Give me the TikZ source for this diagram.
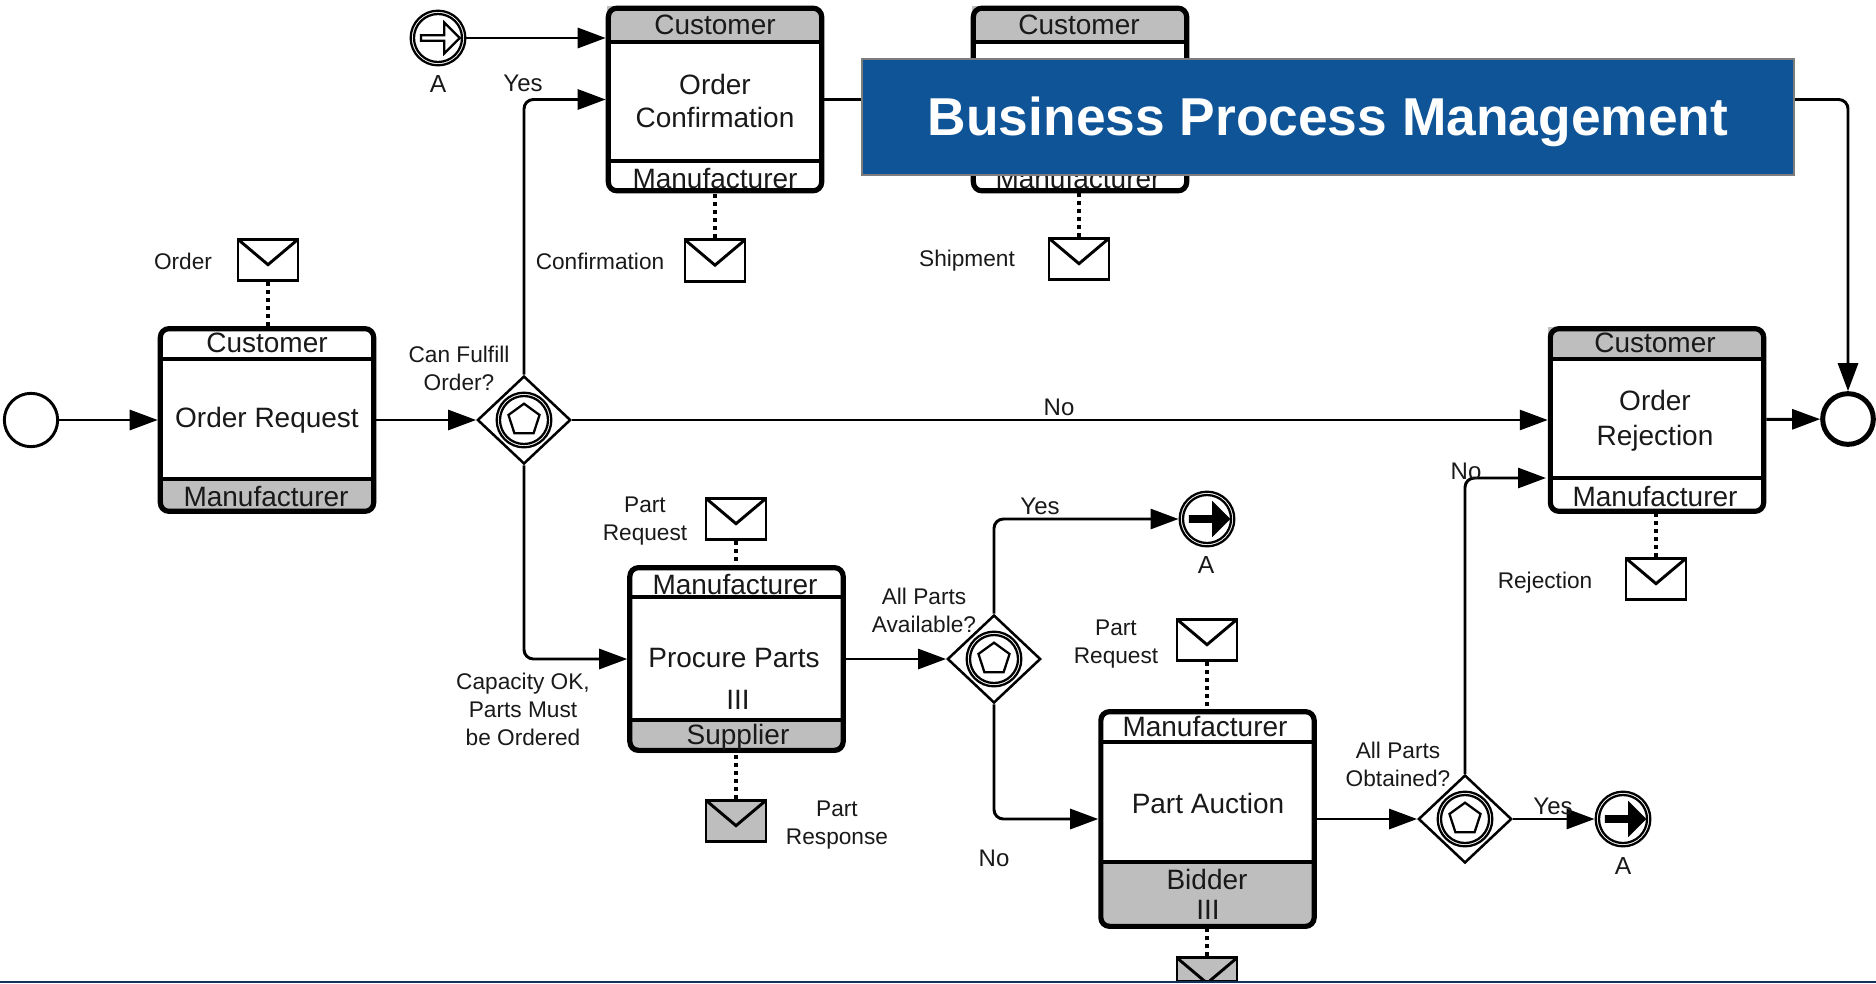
\documentclass[tikz,border=0pt]{standalone}
\usepackage{fontspec}
\setmainfont{Liberation Sans}
\usetikzlibrary{arrows.meta,shapes.geometric,shapes.arrows}

\definecolor{bandgrey}{RGB}{190,190,190}
\definecolor{bannerblue}{RGB}{14,84,151}
\definecolor{bannerline}{RGB}{125,125,125}
\definecolor{inkgrey}{RGB}{25,25,25}
\definecolor{edgenavy}{RGB}{20,50,90}

\tikzset{
  every picture/.style={line width=0.75pt},
  taskbox/.style={draw=black,line width=3.9pt,rounded corners=6.5pt,minimum width=160pt,minimum height=137pt,inner sep=0pt},
  tasktall/.style={taskbox,minimum height=161pt},
  divider/.style={line width=3.4pt},
  band/.style={fill=bandgrey},
  tasktext/.style={text=inkgrey,font=\fontsize{21}{24.5}\selectfont,inner sep=0pt,align=center},
  lab/.style={text=inkgrey,font=\fontsize{17}{21}\selectfont,inner sep=0pt,align=center},
  flow/.style={line width=2.2pt,rounded corners=7pt,-{Triangle[length=21pt,width=15pt]}},
  assoc/.style={line width=3.4pt,dash pattern=on 3.2pt off 2.8pt},
  envelope/.style={draw=black,line width=2.2pt,minimum width=45pt,minimum height=31pt,inner sep=0pt,
    path picture={\draw[line width=2.2pt] (path picture bounding box.north west) -- ([yshift=-19pt]path picture bounding box.north) -- (path picture bounding box.north east);}},
  gate/.style={diamond,draw=black,line width=1.9pt,minimum width=70pt,minimum height=66pt,inner sep=0pt},
  ringouter/.style={circle,draw=black,line width=1.7pt,minimum size=41pt,inner sep=0pt},
  ringinner/.style={circle,draw=black,line width=1.7pt,minimum size=36pt,inner sep=0pt},
  penta/.style={regular polygon,regular polygon sides=5,draw=black,line width=1.7pt,minimum size=24.5pt,inner sep=0pt},
  linkarrow/.style={single arrow,draw=black,line width=1.7pt,minimum height=29pt,minimum width=23pt,single arrow head extend=4pt,inner sep=0pt},
  banner/.style={fill=bannerblue,draw=bannerline,line width=1.5pt,text=white,font=\fontsize{40}{46}\selectfont\bfseries,text height=27.8pt,text depth=0pt,minimum width=699pt,minimum height=87pt,inner sep=0pt}
}

\begin{document}
\begin{tikzpicture}[x=0.75pt,y=0.75pt,yscale=-1,xscale=1]
\useasboundingbox (0,0) rectangle (1876,983);

% Bands
\fill[band] (158,479) -- (376,479) [rounded corners=7pt] -- (376,513) -- (158,513) [sharp corners] -- cycle ;
\fill[band] (607,42) -- (607,6) [rounded corners=7pt] -- (823,6) -- (823,42) [sharp corners] -- cycle ;
\fill[band] (972,42) -- (972,6) [rounded corners=7pt] -- (1188,6) -- (1188,42) [sharp corners] -- cycle ;
\fill[band] (1548,359) -- (1548,327) [rounded corners=7pt] -- (1766,327) -- (1766,359) [sharp corners] -- cycle ;
\fill[band] (628,720) -- (845,720) [rounded corners=7pt] -- (845,753) -- (628,753) [sharp corners] -- cycle ;
\fill[band] (1099,862) -- (1316,862) [rounded corners=7pt] -- (1316,926) -- (1099,926) [sharp corners] -- cycle ;

% Tasks
\node[taskbox] (request) at (267,420) {};
\node[taskbox] (confirm) at (715,99.5) {};
\node[taskbox] (shipment) at (1080,99.5) {};
\node[taskbox] (rejection) at (1657,420) {};
\node[taskbox] (procure) at (736.5,659) {};
\node[tasktall] (auction) at (1207.5,819) {};

% Dividers
\draw[divider] (158,359) -- (376,359) (158,479) -- (376,479) ;
\draw[divider] (607,42) -- (823,42) (607,161) -- (823,161) ;
\draw[divider] (972,42) -- (1188,42) (972,161) -- (1188,161) ;
\draw[divider] (1548,359) -- (1766,359) (1548,478) -- (1766,478) ;
\draw[divider] (628,597) -- (845,597) (628,720) -- (845,720) ;
\draw[divider] (1099,742) -- (1316,742) (1099,862) -- (1316,862) ;

% Text in tasks
\node[tasktext] (requesttop) at (267,343) {Customer};
\node[tasktext] (requestname) at (267,420) {Order Request};
\node[tasktext] (requestbot) at (266,496) {Manufacturer};
\node[tasktext] (confirmtop) at (715,25) {Customer};
\node[tasktext] (confirmname) at (715,101) {Order\\Confirmation};
\node[tasktext] (confirmbot) at (715,178) {Manufacturer};
\node[tasktext] (shipmenttop) at (1079,25) {Customer};
\node[tasktext] (shipmentbot) at (1078,178) {Manufacturer};
\node[tasktext] (rejectiontop) at (1655,343) {Customer};
\node[tasktext] (rejectionname) at (1655,421) {Order\\[2pt]Rejection};
\node[tasktext] (rejectionbot) at (1655,496) {Manufacturer};
\node[tasktext] (procuretop) at (735,584) {Manufacturer};
\node[tasktext] (procurename) at (734,658) {Procure Parts};
\node[tasktext] (procuremark) at (738,700) {III};
\node[tasktext] (procurebot) at (738,737) {Supplier};
\node[tasktext] (auctiontop) at (1205,726) {Manufacturer};
\node[tasktext] (auctionname) at (1208,803) {Part Auction};
\node[tasktext] (auctionbot) at (1207,879) {Bidder};
\node[tasktext] (auctionmark) at (1208,910) {III};

% Events
\node[circle,draw=black,line width=2.2pt,minimum size=40pt,inner sep=0pt] (start) at (31,420) {};
\node[circle,draw=black,line width=3.75pt,minimum size=38pt,inner sep=0pt] (finish) at (1848,419) {};
\node[ringouter] (linka) at (438,38) {};
\node[ringinner] (linkain) at (438,38) {};
\node[linkarrow,fill=white] (linkaarrow) at (439,38) {};
\node[ringouter] (linkb) at (1207,519) {};
\node[ringinner] (linkbin) at (1207,519) {};
\node[linkarrow,fill=black] (linkbarrow) at (1208,519) {};
\node[ringouter] (linkc) at (1623,819) {};
\node[ringinner] (linkcin) at (1623,819) {};
\node[linkarrow,fill=black] (linkcarrow) at (1624,819) {};
\node[lab,font=\fontsize{18.5}{22}\selectfont] (linkatext) at (438,84) {A};
\node[lab,font=\fontsize{18.5}{22}\selectfont] (linkbtext) at (1206,565) {A};
\node[lab,font=\fontsize{18.5}{22}\selectfont] (linkctext) at (1623,866) {A};

% Gateways
\node[gate] (canfulfill) at (524,420) {};
\node[ringouter] (canfulfillout) at (524,420) {};
\node[ringinner] (canfulfillin) at (524,420) {};
\node[penta] (canfulfillmark) at (524,420) {};
\node[gate] (available) at (994,659) {};
\node[ringouter] (availableout) at (994,659) {};
\node[ringinner] (availablein) at (994,659) {};
\node[penta] (availablemark) at (994,659) {};
\node[gate] (obtained) at (1465,819) {};
\node[ringouter] (obtainedout) at (1465,819) {};
\node[ringinner] (obtainedin) at (1465,819) {};
\node[penta] (obtainedmark) at (1465,819) {};

% Messages
\node[envelope] (ordermsg) at (268,260) {};
\node[envelope] (confirmmsg) at (715,260.5) {};
\node[envelope] (shipmentmsg) at (1079,259) {};
\node[envelope] (rejectionmsg) at (1656,579) {};
\node[envelope] (partreqa) at (736,519) {};
\node[envelope,fill=bandgrey] (partresp) at (736,821) {};
\node[envelope] (partreqb) at (1207,640) {};
\node[envelope,fill=bandgrey,minimum height=17.5pt] (bidmsg) at (1207,969.5) {};

% Associations
\draw[assoc] (ordermsg) -- (ordermsg |- request.north) ;
\draw[assoc] (confirmmsg) -- (confirmmsg |- confirm.south) ;
\draw[assoc] (shipmentmsg) -- (shipmentmsg |- shipment.south) ;
\draw[assoc] (rejectionmsg) -- (rejectionmsg |- rejection.south) ;
\draw[assoc] (partreqa) -- (partreqa |- procure.north) ;
\draw[assoc] (partresp) -- (partresp |- procure.south) ;
\draw[assoc] (partreqb) -- (partreqb |- auction.north) ;
\draw[assoc] (bidmsg) -- (bidmsg |- auction.south) ;

% Flows
\coordinate (rejectionin) at (1546,478) ;
\coordinate (finishin) at (1848,99.5) ;
\draw[flow] (start) -- (request) ;
\draw[flow] (request) -- (canfulfill) ;
\draw[flow] (canfulfill) -- (rejection) ;
\draw[flow] (canfulfill.north) |- (confirm.west) ;
\draw[flow] (canfulfill.south) |- (procure.west) ;
\draw[flow] (linka) -- (linka -| confirm.west) ;
\draw[flow] (confirm) -- (shipment) ;
\draw[flow] (shipment.east) -- (finishin) -- (finish.north) ;
\draw[flow] (rejection) -- (finish) ;
\draw[flow] (procure) -- (available) ;
\draw[flow] (available.north) |- (linkb) ;
\draw[flow] (available.south) |- (auction.west) ;
\draw[flow] (auction) -- (obtained) ;
\draw[flow] (obtained) -- (linkc) ;
\draw[flow] (obtained.north) |- (rejectionin) ;

% Labels
\node[lab] (ordertext) at (183,261) {Order};
\node[lab] (confirmtext) at (600,261) {Confirmation};
\node[lab] (shipmenttext) at (967,261) {Shipment};
\node[lab] (rejectiontext) at (1545,583) {Rejection};
\node[lab] (partreqatext) at (645,521) {Part\\Request};
\node[lab] (partresptext) at (837,825) {Part\\Response};
\node[lab] (partreqbtext) at (1116,644) {Part\\Request};
\node[lab] (canfulfilltext) at (459,368) {Can Fulfill\\Order?};
\node[lab] (availabletext) at (924,610) {All Parts\\Available?};
\node[lab] (obtainedtext) at (1398,764) {All Parts\\Obtained?};
\node[lab] (capacitytext) at (523,709) {Capacity OK,\\Parts Must\\be Ordered};
\node[lab,font=\fontsize{18}{22}\selectfont] (yesa) at (523,83) {Yes};
\node[lab,font=\fontsize{18}{22}\selectfont] (nomain) at (1059,407) {No};
\node[lab,font=\fontsize{18}{22}\selectfont] (yesb) at (1040,506) {Yes};
\node[lab,font=\fontsize{18}{22}\selectfont] (nob) at (994,858) {No};
\node[lab,font=\fontsize{18}{22}\selectfont] (noc) at (1466,471) {No};
\node[lab,font=\fontsize{18}{22}\selectfont] (yesc) at (1553,806) {Yes};

% Banner
\node[banner] (title) at (1328,116.5) {Business Process Management};
\fill[edgenavy] (0,981) rectangle (1876,983) ;

\end{tikzpicture}
\end{document}
